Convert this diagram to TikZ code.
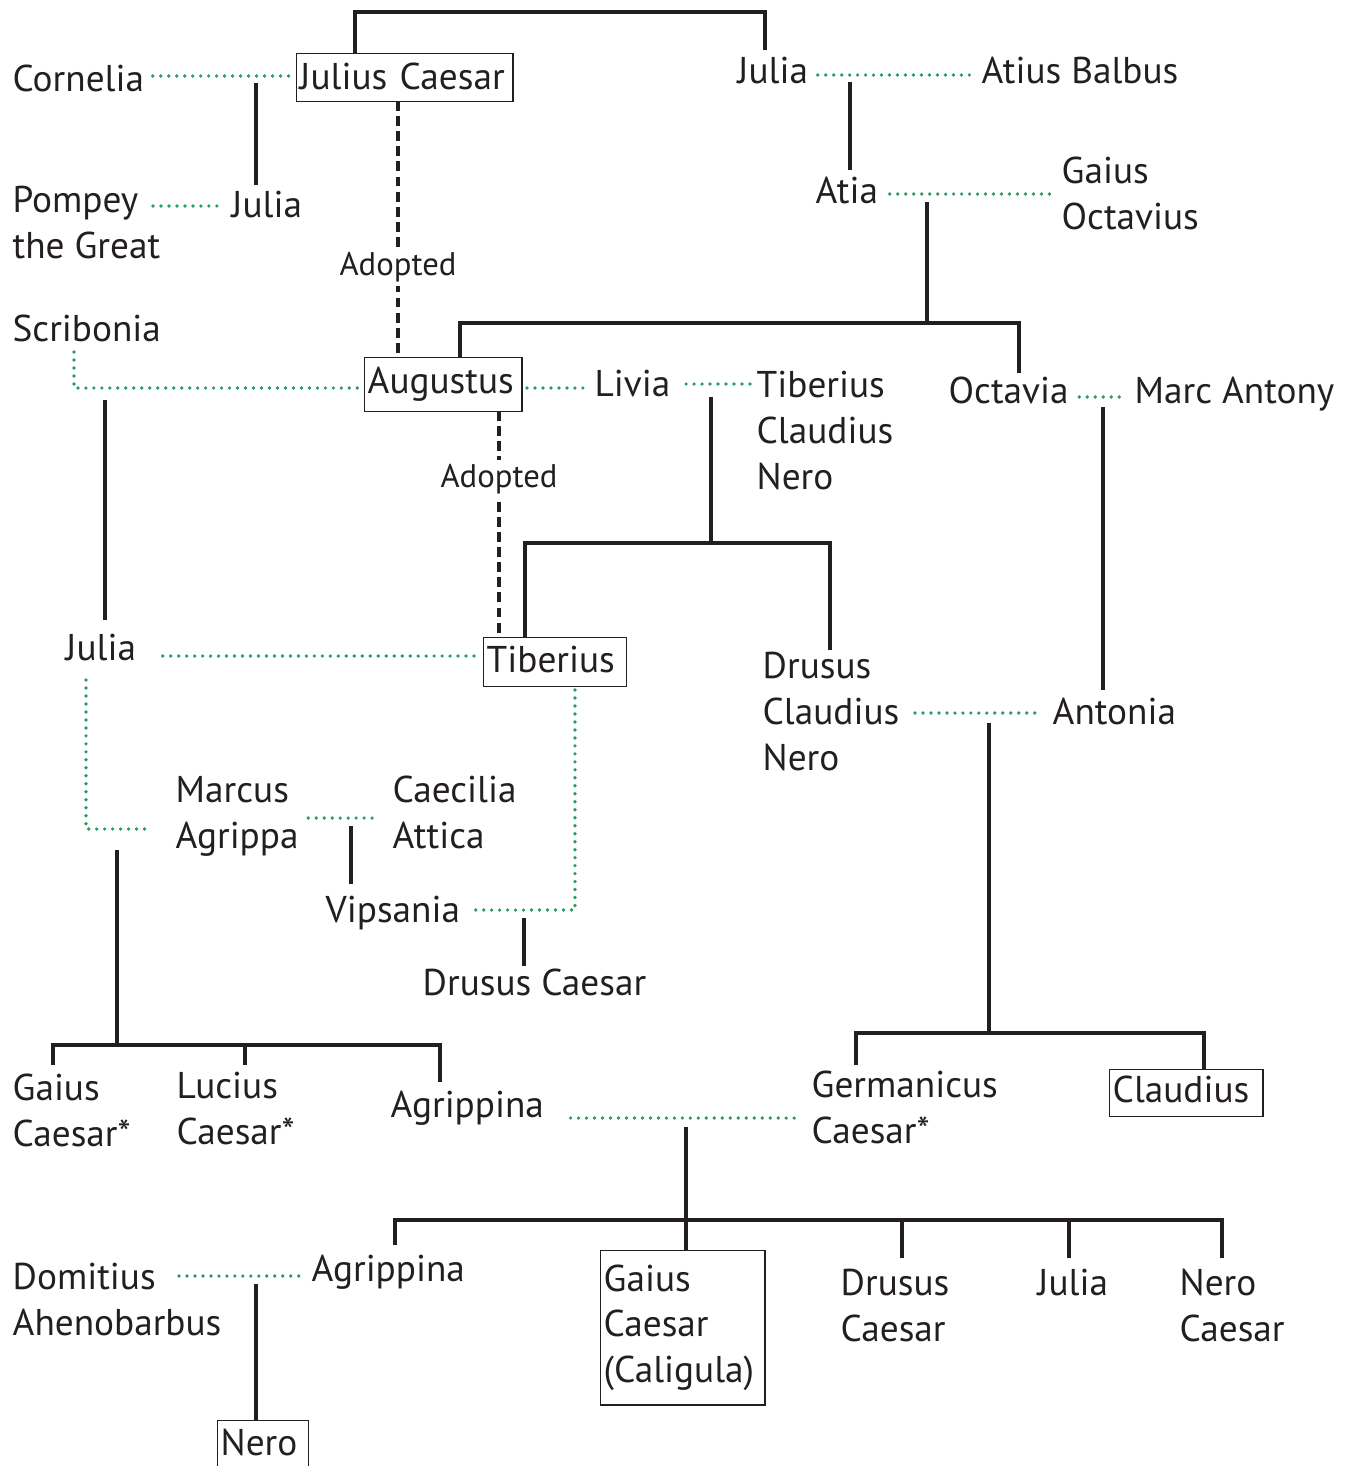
\documentclass[tikz,border=0pt]{standalone}
\usepackage{fontspec}
\setmainfont{PT Sans}
\usetikzlibrary{calc}
\definecolor{ink}{RGB}{35,31,32}
\definecolor{wedgreen}{RGB}{40,156,92}

\begin{document}
\begin{tikzpicture}[x=0.01cm,y=-0.01cm,
  font=\fontsize{10.6}{13.04}\selectfont, text=ink,
  person/.style={anchor=base west, inner sep=0pt, align=left},
  ruler/.style={draw=ink, line width=0.4pt, anchor=north west, inner xsep=0.03cm, inner ysep=0pt, align=left},
  kin/.style={draw=ink, line width=0.95pt},
  wed/.style={draw=wedgreen, line width=1.05pt, line cap=round, dash pattern=on 0pt off 2.27pt},
  adopt/.style={draw=ink, line width=0.95pt, dash pattern=on 2.8pt off 1.5pt},
  lbl/.style={fill=white, inner sep=1pt, font=\fontsize{9.3}{11}\selectfont}]
\useasboundingbox (0,0) rectangle (1361,1466);
\node[person] (cornelia) at (12,91) {Cornelia};
\node[ruler, text width=2.10cm, text height=0.36cm, text depth=0.12cm] (jc) at (296,53) {Julius~Caesar};
\node[person] (juliaA) at (737,83) {Julia};
\node[person] (atius) at (981,83) {Atius Balbus};
\node[person] (pompey) at (12,258) {Pompey\\the Great};
\node[person] (juliaC) at (231,217) {Julia};
\node[person] (atia) at (815,203) {Atia};
\node[person] (gaiusoct) at (1061,229) {Gaius\\Octavius};
\node[person] (scribonia) at (12,341) {Scribonia};
\node[ruler, text width=1.51cm, text height=0.36cm, text depth=0.18cm] (aug) at (364,357) {Augustus};
\node[person] (livia) at (594,396) {Livia};
\node[person] (tcn) at (756,489) {Tiberius\\Claudius\\Nero};
\node[person] (octavia) at (948,403) {Octavia};
\node[person] (antony) at (1134,403) {Marc Antony};
\node[person] (juliaD) at (65,660) {Julia};
\node[ruler, text width=1.37cm, text height=0.35cm, text depth=0.14cm] (tib) at (483,637) {Tiberius};
\node[person] (dcn) at (762,770) {Drusus\\Claudius\\Nero};
\node[person] (antonia) at (1052,724) {Antonia};
\node[person] (agrippa) at (175,848) {Marcus\\Agrippa};
\node[person] (caecilia) at (392,848) {Caecilia\\Attica};
\node[person] (vipsania) at (325,922) {Vipsania};
\node[person] (drususC) at (422,995) {Drusus Caesar};
\node[person] (gaiusC) at (12,1146) {Gaius\\Caesar*};
\node[person] (luciusC) at (176,1144) {Lucius\\Caesar*};
\node[person] (agrippinaM) at (390,1117) {Agrippina};
\node[person] (germ) at (811,1143) {Germanicus\\Caesar*};
\node[ruler, text width=1.47cm, text height=0.33cm, text depth=0.14cm] (claud) at (1109,1069) {Claudius};
\node[person] (domitius) at (12,1335) {Domitius\\Ahenobarbus};
\node[person] (agrippinaY) at (311,1281) {Agrippina};
\node[ruler, text width=1.58cm, minimum height=1.54cm] (calig) at (600,1250) {Gaius\\Caesar\\(Caligula)};
\node[person] (drusus2) at (840,1341) {Drusus\\Caesar};
\node[person] (juliaL) at (1037,1295) {Julia};
\node[person] (neroC) at (1179,1341) {Nero\\Caesar};
\node[ruler, text width=0.85cm, text height=0.35cm, text depth=0.2cm] (nero) at (217,1420) {Nero};
\draw[kin] ($(jc.north west)+(59,0)$) |- ($(juliaA.base west)+(28,-71)$) -- ($(juliaA.base west)+(28,-33)$);
\draw[kin] ($(cornelia.base west)+(244,-8)$) -- ($(juliaC.base west)+(25,-32)$);
\draw[kin] ($(juliaA.base west)+(113,-1)$) -- ($(atia.base west)+(35,-33)$);
\draw[kin] ($(atia.base west)+(112,-1)$) -- ($(octavia.base west)+(-21,-80)$);
\draw[kin] ($(aug.north west)+(96,0)$) |- ($(octavia.base west)+(71,-80)$) -- ($(octavia.base west)+(71,-30)$);
\draw[kin] ($(tcn.base west)+(-45,-92)$) -- ($(dcn.base west)+(-51,-227)$);
\draw[kin] ($(tib.north west)+(42,0)$) |- ($(dcn.base west)+(68,-227)$) -- ($(dcn.base west)+(68,-120)$);
\draw[kin] ($(antony.base west)+(-31,4)$) -- ($(antonia.base west)+(51,-34)$);
\draw[kin] ($(scribonia.base west)+(93,59)$) -- ($(juliaD.base west)+(40,-40)$);
\draw[kin] ($(agrippa.base west)+(176,-22)$) -- ($(vipsania.base west)+(26,-38)$);
\draw[kin] ($(vipsania.base west)+(199,-4)$) -- ($(drususC.base west)+(102,-29)$);
\draw[kin] ($(agrippa.base west)+(-58,2)$) -- ($(luciusC.base west)+(-59,-99)$);
\draw[kin] ($(gaiusC.base west)+(41,-81)$) |- ($(agrippinaM.base west)+(50,-72)$) -- ($(agrippinaM.base west)+(50,-35)$);
\draw[kin] ($(luciusC.base west)+(69,-99)$) -- ($(luciusC.base west)+(69,-79)$);
\draw[kin] ($(antonia.base west)+(-63,-1)$) -- ($(germ.base west)+(178,-110)$);
\draw[kin] ($(germ.base west)+(45,-78)$) |- ($(claud.north west)+(95,-36)$) -- ($(claud.north west)+(95,0)$);
\draw[kin] ($(agrippinaM.base west)+(296,10)$) -- ($(calig.north west)+(86,0)$);
\draw[kin] ($(agrippinaY.base west)+(84,-36)$) |- ($(neroC.base west)+(43,-121)$) -- ($(neroC.base west)+(43,-83)$);
\draw[kin] ($(drusus2.base west)+(62,-121)$) -- ($(drusus2.base west)+(62,-83)$);
\draw[kin] ($(juliaL.base west)+(32,-75)$) -- ($(juliaL.base west)+(32,-37)$);
\draw[kin] ($(domitius.base west)+(244,-51)$) -- ($(nero.north west)+(39,0)$);
\draw[adopt] ($(jc.north west)+(102,48)$) -- node[lbl, pos=0.65] (adoptA) {Adopted} ($(aug.north west)+(34,0)$);
\draw[adopt] ($(aug.north west)+(135,54)$) -- node[lbl, pos=0.30] (adoptB) {Adopted} ($(tib.north west)+(16,0)$);
\draw[wed] ($(cornelia.base east)+(8,-15)$) -- ($(jc.north west)+(-6,23)$);
\draw[wed] ($(pompey.base west)+(141,-52)$) -- ($(juliaC.base west)+(-9,-11)$);
\draw[wed] ($(juliaA.base east)+(9,-8)$) -- ($(atius.base west)+(-11,-8)$);
\draw[wed] ($(atia.base east)+(11,-9)$) -- ($(gaiusoct.base west)+(-9,-35)$);
\draw[wed] ($(scribonia.base west)+(62,11)$) |- ($(aug.north west)+(-6,31)$);
\draw[wed] ($(aug.north west)+(163,31)$) -- ($(livia.base west)+(-6,-8)$);
\draw[wed] ($(livia.base east)+(15,-12)$) -- ($(tcn.base west)+(-6,-105)$);
\draw[wed] ($(octavia.base east)+(10,-6)$) -- ($(antony.base west)+(-9,-6)$);
\draw[wed] ($(juliaD.base east)+(26,-4)$) -- ($(tib.north west)+(-3,19)$);
\draw[wed] ($(juliaD.base west)+(21,20)$) |- ($(agrippa.base west)+(-23,-19)$);
\draw[wed] ($(agrippa.base east)+(9,-30)$) -- ($(caecilia.base west)+(-16,-30)$);
\draw[wed] ($(tib.north west)+(92,53)$) |- ($(vipsania.base east)+(9,-12)$);
\draw[wed] ($(dcn.base east)+(15,-57)$) -- ($(antonia.base west)+(-14,-11)$);
\draw[wed] ($(agrippinaM.base east)+(26,1)$) -- ($(germ.base west)+(-13,-25)$);
\draw[wed] ($(domitius.base west)+(167,-59)$) -- ($(agrippinaY.base west)+(-11,-5)$);
\end{tikzpicture}
\end{document}
